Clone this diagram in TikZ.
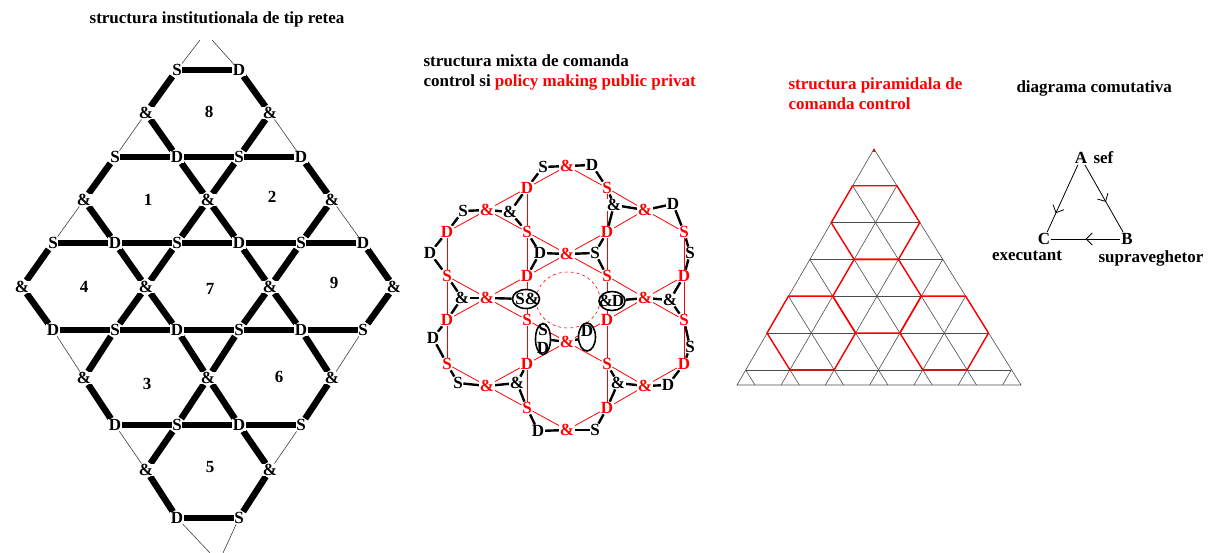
\documentclass[tikz,border=0pt]{standalone}
\usepackage{fontspec}
\setmainfont{Liberation Serif}
\usetikzlibrary{positioning,arrows.meta,decorations.markings,backgrounds,shapes.geometric}

\begin{document}
\begin{tikzpicture}[x=1pt, y=-1pt,
  every node/.style={font=\fontsize{17}{20}\selectfont\bfseries},
  lbl/.style={inner sep=0.5pt, fill=white},
  redlbl/.style={lbl, text=red},
  barline/.style={line width=6.5pt},
  hairline/.style={line width=0.6pt, black!75},
  redline/.style={line width=0.8pt, red},
  blkline/.style={line width=2.4pt},
  blkell/.style={draw, ellipse, line width=1.6pt, fill=white, inner sep=0pt},
  gridline/.style={line width=0.6pt, black!70},
  redhex/.style={line width=1.4pt, red, line join=round},
  midarrow/.style={postaction={decorate}, decoration={markings,
    mark=at position #1 with {\arrow{Straight Barb[length=6pt, width=12pt]}}}}]
  \useasboundingbox (0,0) rectangle (1213,553);

  % Network structure
  \node[anchor=base] (title1) at (217,24) {structura institutionala de tip retea};
  \foreach \r/\y/\lst in {0/70/{5/S,7/D}, 2/157/{3/S,5/D,7/S,9/D},
      4/243/{1/S,3/D,5/S,7/D,9/S,11/D}, 6/330/{1/D,3/S,5/D,7/S,9/D,11/S},
      8/425/{3/D,5/S,7/D,9/S}, 10/518/{5/D,7/S}}
    \foreach \c/\t in \lst
      \node[lbl] (L\r-\c) at ({22+31*\c},\y) {\t};
  \foreach \r/\y/\lst in {1/113/{4,8}, 3/200/{2,6,10}, 5/287/{0,4,8,12}, 7/378/{2,6,10}, 9/470/{4,8}}
    \foreach \c in \lst
      \node[lbl] (L\r-\c) at ({22+31*\c},\y) {\&};
  \foreach \t/\x/\y in {8/209/112, 1/148/200, 2/272/197, 4/84/287, 7/210/289,
      9/334/283, 3/147/384, 6/279/377, 5/210/467}
    \node (N\t) at (\x,\y) {\t};
  \coordinate (Ltl) at (200,40); \coordinate (Ltr) at (212,40);
  \coordinate (Lbl) at (210,553); \coordinate (Lbr) at (223,553);

  \begin{scope}[on background layer]
    \foreach \r/\cs in {0/{5}, 2/{3,5,7}, 4/{1,3,5,7,9}, 6/{1,3,5,7,9}, 8/{3,5,7}, 10/{5}}
      \foreach \c in \cs {
        \pgfmathtruncatemacro\cnext{\c+2}
        \draw[barline] (L\r-\c) -- (L\r-\cnext);
      }
    \foreach \a/\nb in {1-4/{0-5,2-5}, 1-8/{0-7,2-7}, 3-2/{2-3,4-3}, 3-6/{2-5,2-7,4-5,4-7},
        3-10/{2-9,4-9}, 5-0/{4-1,6-1}, 5-4/{4-3,4-5,6-3,6-5}, 5-8/{4-7,4-9,6-7,6-9},
        5-12/{4-11,6-11}, 7-2/{6-3,8-3}, 7-6/{6-5,6-7,8-5,8-7}, 7-10/{6-9,8-9},
        9-4/{8-5,10-5}, 9-8/{8-7,10-7}}
      \foreach \b in \nb
        \draw[barline] (L\a) -- (L\b);
    \foreach \a/\b in {1-4/2-3, 1-8/2-9, 3-2/4-1, 3-10/4-11, 7-2/6-1, 7-10/6-11, 9-4/8-3, 9-8/8-9}
      \draw[hairline] (L\a) -- (L\b);
    \draw[hairline] (Ltl) -- (L0-5) (Ltr) -- (L0-7) (L10-5) -- (Lbl) (L10-7) -- (Lbr);
  \end{scope}

  % Mixed structure
  \node[anchor=base west] (title2a) at (420,67) {structura mixta de comanda};
  \node[anchor=base west] (title2b) at (420,87) {control si \textcolor{red}{policy making public privat}};
  \foreach \n/\x/\lst in {a/447/{1/D,2/S,3/D,4/S}, b/527/{0/D,1/S,2/D,3/S,4/D,5/S},
      c/607/{0/S,1/D,2/S,3/D,4/S,5/D}, d/684/{1/S,2/D,3/S,4/D}}
    \foreach \k/\t in \lst
      \node[redlbl] (M\n\k) at (\x,{188+44*\k}) {\t};
  \foreach \n/\x/\y/\m in {e/487/210/2, f/567/166/3, g/645/210/2}
    \foreach \j in {0,...,\m}
      \node[redlbl] (Q\n\j) at (\x,{\y+88*\j}) {\&};
  \foreach \n/\x/\y/\t in {1/543/167/S, 2/592/165/D, 3/463/211/S, 4/510/212/\&, 5/614/205/\&,
      6/673/204/D, 7/540/253/D, 8/595/253/S, 9/430/253/D, 10/690/253/S, 11/462/298/\&,
      14/670/300/\&, 15/433/338/D, 18/690/347/S, 19/458/383/S, 20/517/383/\&,
      21/618/383/\&, 22/668/385/D, 23/538/431/D, 24/595/430/S}
    \node[lbl] (K\n) at (\x,\y) {\t};
  \node[blkell, minimum width=27pt, minimum height=19pt] (K12) at (526,299) {};
  \node[inner sep=0pt] (K12s) at (520,299) {S};
  \node[inner sep=0pt] (K12a) at (532,299) {\&};
  \node[blkell, minimum width=26pt, minimum height=19pt] (K13) at (612,301) {};
  \node[inner sep=0pt] (K13a) at (606,301) {\&};
  \node[inner sep=0pt] (K13d) at (618,301) {D};
  \node[blkell, minimum width=15pt, minimum height=31pt] (K16) at (543,339) {};
  \node[inner sep=0pt] (K16s) at (543,330) {S};
  \node[inner sep=0pt] (K16d) at (543,348) {D};
  \node[blkell, minimum width=17pt, minimum height=28pt] (K17) at (587,337) {};
  \node[inner sep=0pt] (K17d) at (587,331) {D};

  \begin{scope}[on background layer]
    \foreach \n/\ks in {a/{1,2,3}, b/{0,...,4}, c/{0,...,4}, d/{1,2,3}}
      \foreach \k in \ks {
        \pgfmathtruncatemacro\knext{\k+1}
        \draw[redline] (M\n\k) -- (M\n\knext);
      }
    \foreach \a/\nb in {f0/{b0,c0}, f1/{b1,b2,c1,c2}, f2/{b3,b4,c3,c4}, f3/{b5,c5},
        e0/{a1,b0,b1}, e1/{a2,a3,b2,b3}, e2/{a4,b4,b5},
        g0/{c0,c1,d1}, g1/{c2,c3,d2,d3}, g2/{c4,c5,d4}}
      \foreach \b in \nb
        \draw[redline] (Q\a) -- (M\b);
    \foreach \a/\nb in {1/{Qf0,Mb0}, 2/{Qf0,Mc0}, 3/{Qe0,Ma1}, 4/{Qe0,Mb0,Mb1}, 5/{Qg0,Mc0,Mc1},
        6/{Qg0,Md1}, 7/{Qf1,Mb1,Mb2}, 8/{Qf1,Mc1,Mc2}, 9/{Ma1,Ma2}, 10/{Md1,Md2},
        11/{Qe1,Ma2,Ma3}, 12/{Qe1}, 13/{Qg1}, 14/{Qg1,Md2,Md3}, 15/{Ma3,Ma4}, 16/{Qf2},
        17/{Qf2}, 18/{Md3,Md4}, 19/{Qe2,Ma4}, 20/{Qe2,Mb4,Mb5}, 21/{Qg2,Mc4,Mc5},
        22/{Qg2,Md4}, 23/{Qf3,Mb5}, 24/{Qf3,Mc5}}
      \foreach \b in \nb
        \draw[blkline] (K\a) -- (\b);
    \draw[red, dashed, line width=0.6pt] (568,300) ellipse (32 and 28);
  \end{scope}

  % Pyramid
  \node[anchor=base west, text=red] (title3a) at (785,90) {structura piramidala de};
  \node[anchor=base west, text=red] (title3b) at (785,110) {comanda control};
  \foreach \k in {0,...,6}
    \foreach \j in {0,...,\k}
      \coordinate (P\k-\j) at ({874-21.4*\k+44.3*\j},{149+36.8*\k});
  \coordinate (Pbl) at (737,385); \coordinate (Pbr) at (1021,385);
  \draw[gridline] (Pbl) -- (P0-0) -- (Pbr) -- cycle;
  \foreach \k in {1,...,6} {
    \draw[gridline] (P\k-0) -- (P\k-\k);
    \draw[gridline] (P\k-\k) -- ({736.8+44.3*\k},385);
    \draw[gridline] (P\k-0) -- ({1020.8-44.3*\k},385);
  }
  \foreach \k/\j in {2/1, 4/2, 5/1, 5/4} {
    \pgfmathtruncatemacro\ka{\k-1} \pgfmathtruncatemacro\kb{\k+1}
    \pgfmathtruncatemacro\ja{\j-1} \pgfmathtruncatemacro\jb{\j+1}
    \draw[redhex] (P\ka-\ja) -- (P\ka-\j) -- (P\k-\jb) -- (P\kb-\jb) -- (P\kb-\j) -- (P\k-\ja) -- cycle;
  }
  \draw[red, line width=1.2pt] (P0-0) -- ++(0,3);

  % Commutative diagram
  \node[anchor=base west] (title4) at (1013,93) {diagrama comutativa};
  \node[inner sep=1pt] (A) at (1081,158) {A};
  \node[inner sep=1pt, base right=4pt of A] (sef) {sef};
  \node[inner sep=1pt] (C) at (1044,239) {C};
  \node[inner sep=1pt] (B) at (1127,239) {B};
  \node[below=1pt of C, xshift=-17pt] (exe) {executant};
  \node[below=1pt of B, xshift=24pt] (sup) {supraveghetor};
  \draw[line width=0.8pt, midarrow=0.72] (A) -- (C);
  \draw[line width=0.8pt, midarrow=0.55] (A) -- (B);
  \draw[line width=0.8pt, midarrow=0.5] (B) -- (C);
\end{tikzpicture}
\end{document}
